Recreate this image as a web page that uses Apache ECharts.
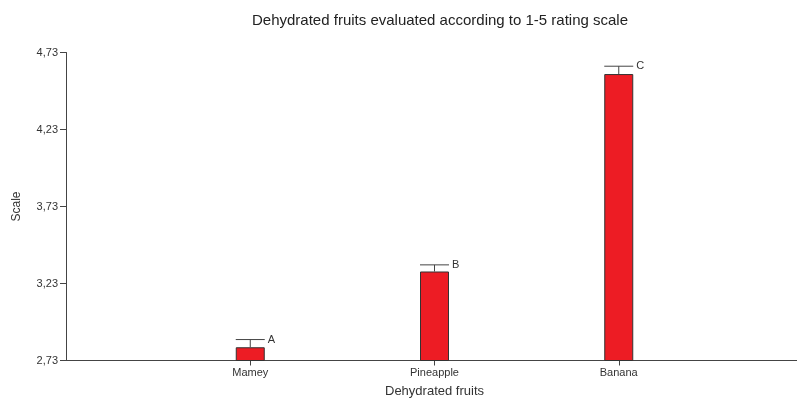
<!DOCTYPE html>
<html><head><meta charset="utf-8">
<script src="https://cdn.jsdelivr.net/npm/echarts@6/dist/echarts.min.js"></script>
<style>html,body{margin:0;padding:0;background:#fff}#c{width:797px;height:404px}</style>
</head><body><div id="c"></div>
<script>
var categories = ['', 'Mamey', 'Pineapple', 'Banana', ''];
var means = [null, 2.816, 3.308, 4.59, null];
var errorTops = [null, 2.866, 3.351, 4.641, null];
var letters = ['', 'A', 'B', 'C', ''];
var yTicks = [2.73, 3.23, 3.73, 4.23, 4.73];

var chart = echarts.init(document.getElementById('c'));
var errData = [];
for (var i = 0; i < categories.length; i++) {
  if (errorTops[i] != null) errData.push([i, means[i], errorTops[i], letters[i]]);
}
chart.setOption({
  animation: false,
  title: {
    text: 'Dehydrated fruits evaluated according to 1-5 rating scale',
    left: 247, top: 8,
    textStyle: { fontFamily: 'Liberation Sans', fontSize: 15, fontWeight: 'normal', color: '#222' }
  },
  grid: { left: 66, right: -6, top: 52.5, bottom: 43.5, containLabel: false, outerBoundsMode: 'none' },
  xAxis: {
    type: 'category', data: categories, boundaryGap: false,
    name: 'Dehydrated fruits', nameLocation: 'middle', nameGap: 24,
    nameTextStyle: { fontFamily: 'Liberation Sans', fontSize: 13, color: '#333' },
    axisLine: { lineStyle: { color: '#444', width: 1 } },
    axisTick: { show: true, length: 5, interval: function (idx) { return categories[idx] !== ''; }, lineStyle: { color: '#444' } },
    axisLabel: { fontFamily: 'Liberation Sans', fontSize: 11, color: '#333', margin: 7, interval: 0 },
    splitLine: { show: false }
  },
  yAxis: {
    type: 'value', min: 2.73, max: 4.73,
    name: 'Scale', nameLocation: 'middle', nameGap: 43, nameRotate: 90,
    nameTextStyle: { fontFamily: 'Liberation Sans', fontSize: 12, color: '#333' },
    axisLine: { show: true, lineStyle: { color: '#444', width: 1 } },
    axisTick: { show: true, length: 6, customValues: yTicks, lineStyle: { color: '#444' } },
    axisLabel: { fontFamily: 'Liberation Sans', fontSize: 11, color: '#333', margin: 8,
      customValues: yTicks, formatter: function (v) { return v.toFixed(2).replace('.', ','); } },
    splitLine: { show: false }
  },
  series: [
    {
      type: 'bar', data: means, barWidth: 29,
      itemStyle: { color: '#ED1C24', borderColor: '#333', borderWidth: 1 }
    },
    {
      type: 'custom', data: errData,
      renderItem: function (params, api) {
        var x = api.value(0);
        var base = api.coord([x, api.value(1)]);
        var top = api.coord([x, api.value(2)]);
        var half = 14.5;
        return {
          type: 'group',
          children: [
            { type: 'line', shape: { x1: base[0], y1: base[1], x2: top[0], y2: top[1] }, style: { stroke: '#444', lineWidth: 1 } },
            { type: 'line', shape: { x1: top[0] - half, y1: top[1], x2: top[0] + half, y2: top[1] }, style: { stroke: '#444', lineWidth: 1 } },
            { type: 'text', x: top[0] + half + 3, y: top[1], style: { text: api.value(3), fill: '#333', font: '11px "Liberation Sans"', verticalAlign: 'middle', align: 'left' } }
          ]
        };
      },
      z: 5
    }
  ]
});
</script></body></html>
